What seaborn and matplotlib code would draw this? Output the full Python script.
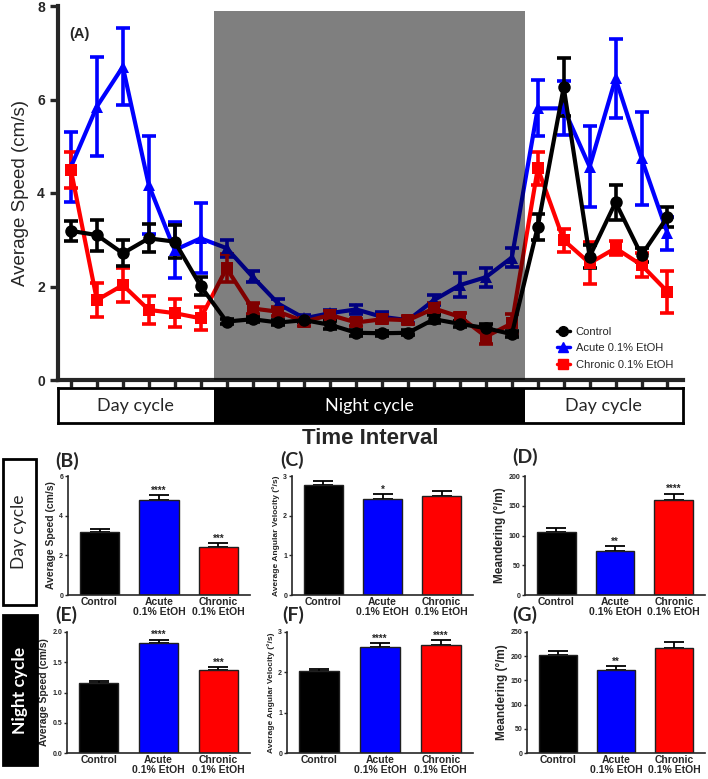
"""
Locomotion of zebrafish under day/night cycles: speed time course and bar summaries.
"""

import matplotlib
matplotlib.use('Agg')
import matplotlib.pyplot as plt
from matplotlib.lines import Line2D
from matplotlib.patches import Rectangle
import numpy as np
import pandas as pd
import seaborn as sns

# Time course (A)
intervals = list(range(24))
control_mean = [3.19, 3.10, 2.71, 3.03, 2.96, 2.01, 1.25, 1.30, 1.23, 1.28, 1.18, 1.01,
                1.00, 1.01, 1.30, 1.20, 1.11, 0.98, 3.28, 6.26, 2.64, 3.80, 2.67, 3.49]
control_sem = [0.21, 0.33, 0.28, 0.30, 0.35, 0.20, 0.05, 0.05, 0.05, 0.05, 0.08, 0.06,
               0.05, 0.05, 0.08, 0.06, 0.08, 0.06, 0.28, 0.62, 0.25, 0.37, 0.15, 0.22]
acute_mean = [4.56, 5.85, 6.70, 4.17, 2.78, 3.03, 2.82, 2.21, 1.63, 1.32, 1.43, 1.51,
              1.35, 1.28, 1.71, 2.03, 2.20, 2.62, 5.81, 5.81, 4.56, 6.45, 4.74, 3.14]
acute_sem = [0.75, 1.05, 0.82, 1.05, 0.60, 0.75, 0.18, 0.12, 0.10, 0.07, 0.07, 0.10,
             0.10, 0.07, 0.10, 0.25, 0.20, 0.20, 0.60, 0.58, 0.87, 0.85, 1.00, 0.35]
chronic_mean = [4.49, 1.71, 2.03, 1.50, 1.43, 1.32, 2.39, 1.53, 1.46, 1.25, 1.39, 1.23,
                1.30, 1.28, 1.53, 1.35, 0.93, 1.21, 4.53, 2.99, 2.50, 2.82, 2.46, 1.89]
chronic_sem = [0.38, 0.36, 0.37, 0.30, 0.30, 0.25, 0.30, 0.12, 0.10, 0.10, 0.08, 0.08,
               0.08, 0.08, 0.12, 0.08, 0.15, 0.20, 0.35, 0.25, 0.45, 0.15, 0.25, 0.45]

GROUPS = ['Control', 'Acute 0.1% EtOH', 'Chronic 0.1% EtOH']
BAR_LABELS = ['Control', 'Acute\n0.1% EtOH', 'Chronic\n0.1% EtOH']
COLORS = {'Control': '#000000', 'Acute 0.1% EtOH': '#0000ff', 'Chronic 0.1% EtOH': '#ff0000'}
MARKERS = {'Control': 'o', 'Acute 0.1% EtOH': '^', 'Chronic 0.1% EtOH': 's'}

# Bar summaries (B)-(G): mean, sem, significance
speed_day = [3.20, 4.80, 2.43]
speed_day_sem = [0.15, 0.24, 0.17]
speed_day_sig = ['', '****', '***']
angvel_day = [2.77, 2.43, 2.49]
angvel_day_sem = [0.10, 0.12, 0.14]
angvel_day_sig = ['', '*', '']
meander_day = [106.7, 73.2, 159.8]
meander_day_sem = [5.6, 8.4, 10.6]
meander_day_sig = ['', '**', '****']
speed_night = [1.15, 1.82, 1.37]
speed_night_sem = [0.04, 0.055, 0.045]
speed_night_sig = ['', '****', '***']
angvel_night = [2.04, 2.64, 2.68]
angvel_night_sem = [0.05, 0.08, 0.11]
angvel_night_sig = ['', '****', '****']
meander_night = [202.6, 171.3, 217.3]
meander_night_sem = [8.4, 7.7, 11.8]
meander_night_sig = ['', '**', '']

sns.set_style('ticks')
plt.rcParams['font.family'] = ['Liberation Sans', 'DejaVu Sans']
CALIBRI = ['Lato', 'DejaVu Sans']

W, H = 708, 779
fig = plt.figure(figsize=(W / 100, H / 100), dpi=100)


def px_axes(left, top, right, bottom):
    return fig.add_axes([left / W, 1 - bottom / H, (right - left) / W, (bottom - top) / H])


# ---- (A) time course ----
ax = px_axes(58, 6, 683, 380)
means = {'Control': control_mean, 'Acute 0.1% EtOH': acute_mean, 'Chronic 0.1% EtOH': chronic_mean}
sems = {'Control': control_sem, 'Acute 0.1% EtOH': acute_sem, 'Chronic 0.1% EtOH': chronic_sem}
df = pd.concat([pd.DataFrame({'Interval': intervals, 'Speed': means[g], 'Group': g}) for g in GROUPS])

draw_order = ['Acute 0.1% EtOH', 'Chronic 0.1% EtOH', 'Control']
for g in draw_order:
    ax.errorbar(intervals, means[g], yerr=sems[g], fmt='none', ecolor=COLORS[g],
                elinewidth=2.6, capsize=5, capthick=2.6, zorder=2)
sns.lineplot(data=df, x='Interval', y='Speed', hue='Group', style='Group',
             hue_order=draw_order, style_order=draw_order, palette=COLORS,
             markers=MARKERS, dashes=False, markersize=9, markeredgewidth=0,
             linewidth=3, legend=False, ax=ax, zorder=3)

# night period shading darkens everything underneath
ax.axvspan(5.5, 17.5, ymin=0, ymax=7.9 / 8, color='black', alpha=0.5, lw=0, zorder=5)

ax.set_xlim(-0.5, 23.6)
ax.set_ylim(0, 8)
ax.set_yticks([0, 2, 4, 6, 8])
ax.set_xticks(intervals)
ax.set_xticklabels([])
ax.tick_params(axis='y', labelsize=10, width=2.4, length=6)
ax.tick_params(axis='x', width=2.4, length=5)
for lab in ax.get_yticklabels():
    lab.set_fontweight('bold')
for s in ['left', 'bottom']:
    ax.spines[s].set_linewidth(3)
sns.despine(ax=ax)
ax.set_xlabel('')
ax.set_ylabel('Average Speed (cm/s)', fontsize=13.5, labelpad=6)
ax.text(0.018, 0.915, '(A)', transform=ax.transAxes, fontsize=10.5, fontweight='bold')

handles = [Line2D([], [], color=COLORS[g], marker=MARKERS[g], markersize=7, lw=2.5) for g in GROUPS]
ax.legend(handles, GROUPS, loc='lower right', bbox_to_anchor=(1.0, 0.0), frameon=False,
          fontsize=8, handlelength=1.2, handletextpad=0.5, labelspacing=0.6)

# ---- day / night bar ----
tb = px_axes(58, 388, 683, 423)
tb.set_xlim(-0.5, 23.6)
tb.set_ylim(0, 1)
tb.axvspan(5.5, 17.5, color='black', lw=0)
for s in tb.spines.values():
    s.set_visible(True)
    s.set_linewidth(2)
    s.set_color('black')
tb.set_xticks([])
tb.set_yticks([])
tb.text(2.5, 0.5, 'Day cycle', ha='center', va='center', fontsize=13, family=CALIBRI)
tb.text(11.5, 0.5, 'Night cycle', ha='center', va='center', fontsize=13, color='white', family=CALIBRI)
tb.text(20.55, 0.5, 'Day cycle', ha='center', va='center', fontsize=13, family=CALIBRI)
fig.text(370 / W, 1 - 439 / H, 'Time Interval', ha='center', va='center', fontsize=16, fontweight='bold')

# ---- side labels ----
fig.patches.append(Rectangle((3 / W, 1 - 605 / H), 33 / W, 146 / H, transform=fig.transFigure,
                             facecolor='white', edgecolor='black', lw=2))
fig.text(19 / W, 1 - 532 / H, 'Day cycle', rotation=90, ha='center', va='center', fontsize=12.5, family=CALIBRI)
fig.patches.append(Rectangle((3 / W, 1 - 765 / H), 34 / W, 150 / H, transform=fig.transFigure,
                             facecolor='black', edgecolor='black', lw=2))
fig.text(20 / W, 1 - 690 / H, 'Night cycle', rotation=90, ha='center', va='center', fontsize=12.5,
         color='white', fontweight='bold', family=CALIBRI)


def bar_panel(box, vals, errs, sigs, ylim, yticks, ylabel, ylabel_size, tag, tag_xy, fmt='{:g}'):
    bx = px_axes(*box)
    bar_df = pd.DataFrame({'Group': GROUPS, 'Value': vals})
    sns.barplot(data=bar_df, x='Group', y='Value', hue='Group', palette=COLORS, legend=False,
                saturation=1, width=0.66, edgecolor='#202020', linewidth=1, ax=bx, zorder=2)
    bx.errorbar(range(3), vals, yerr=[np.zeros(3), errs], fmt='none', ecolor='black',
                elinewidth=1.3, capsize=7, capthick=1.3, zorder=1)
    for i, (v, e, s) in enumerate(zip(vals, errs, sigs)):
        if s:
            bx.text(i, v + e - 0.005 * ylim, s, ha='center', va='bottom', fontsize=7, fontweight='bold')
    bx.set_xlim(-0.53, 2.53)
    bx.set_ylim(0, ylim)
    bx.set_yticks(yticks)
    bx.set_yticklabels([fmt.format(t) for t in yticks], fontsize=5, fontweight='bold')
    bx.set_xticks(range(3))
    bx.set_xticklabels(BAR_LABELS, fontsize=7.5, fontweight='bold', linespacing=1.0)
    bx.tick_params(axis='y', width=1, length=2.5, pad=1)
    bx.tick_params(axis='x', length=0, pad=1.5)
    for s in ['left', 'bottom']:
        bx.spines[s].set_linewidth(1.2)
    sns.despine(ax=bx)
    bx.set_xlabel('')
    bx.set_ylabel(ylabel, fontsize=ylabel_size, fontweight='bold', labelpad=2)
    fig.text(tag_xy[0] / W, 1 - tag_xy[1] / H, tag, ha='left', va='center', fontsize=14,
             fontweight='bold', family=CALIBRI)
    return bx


bar_panel((68, 476, 250, 595), speed_day, speed_day_sem, speed_day_sig, 6, [0, 2, 4, 6],
          'Average Speed (cm/s)', 7.5, '(B)', (55, 461))
bar_panel((292, 476, 473, 595), angvel_day, angvel_day_sem, angvel_day_sig, 3, [0, 1, 2, 3],
          'Average Angular Velocity (°/s)', 6, '(C)', (280, 460))
bar_panel((525, 476, 705, 595), meander_day, meander_day_sem, meander_day_sig, 200, [0, 50, 100, 150, 200],
          'Meandering (°/m)', 8.5, '(D)', (512, 457))
bar_panel((67, 632, 250, 753), speed_night, speed_night_sem, speed_night_sig, 2.0, [0, 0.5, 1.0, 1.5, 2.0],
          'Average Speed (cm/s)', 7.5, '(E)', (55, 615), fmt='{:.1f}')
bar_panel((287, 632, 473, 753), angvel_night, angvel_night_sem, angvel_night_sig, 3, [0, 1, 2, 3],
          'Average Angular Velocity (°/s)', 6, '(F)', (282, 615))
bar_panel((527, 632, 705, 753), meander_night, meander_night_sem, meander_night_sig, 250,
          [0, 50, 100, 150, 200, 250], 'Meandering (°/m)', 8.5, '(G)', (512, 615))

fig.savefig('out.png', dpi=100)
